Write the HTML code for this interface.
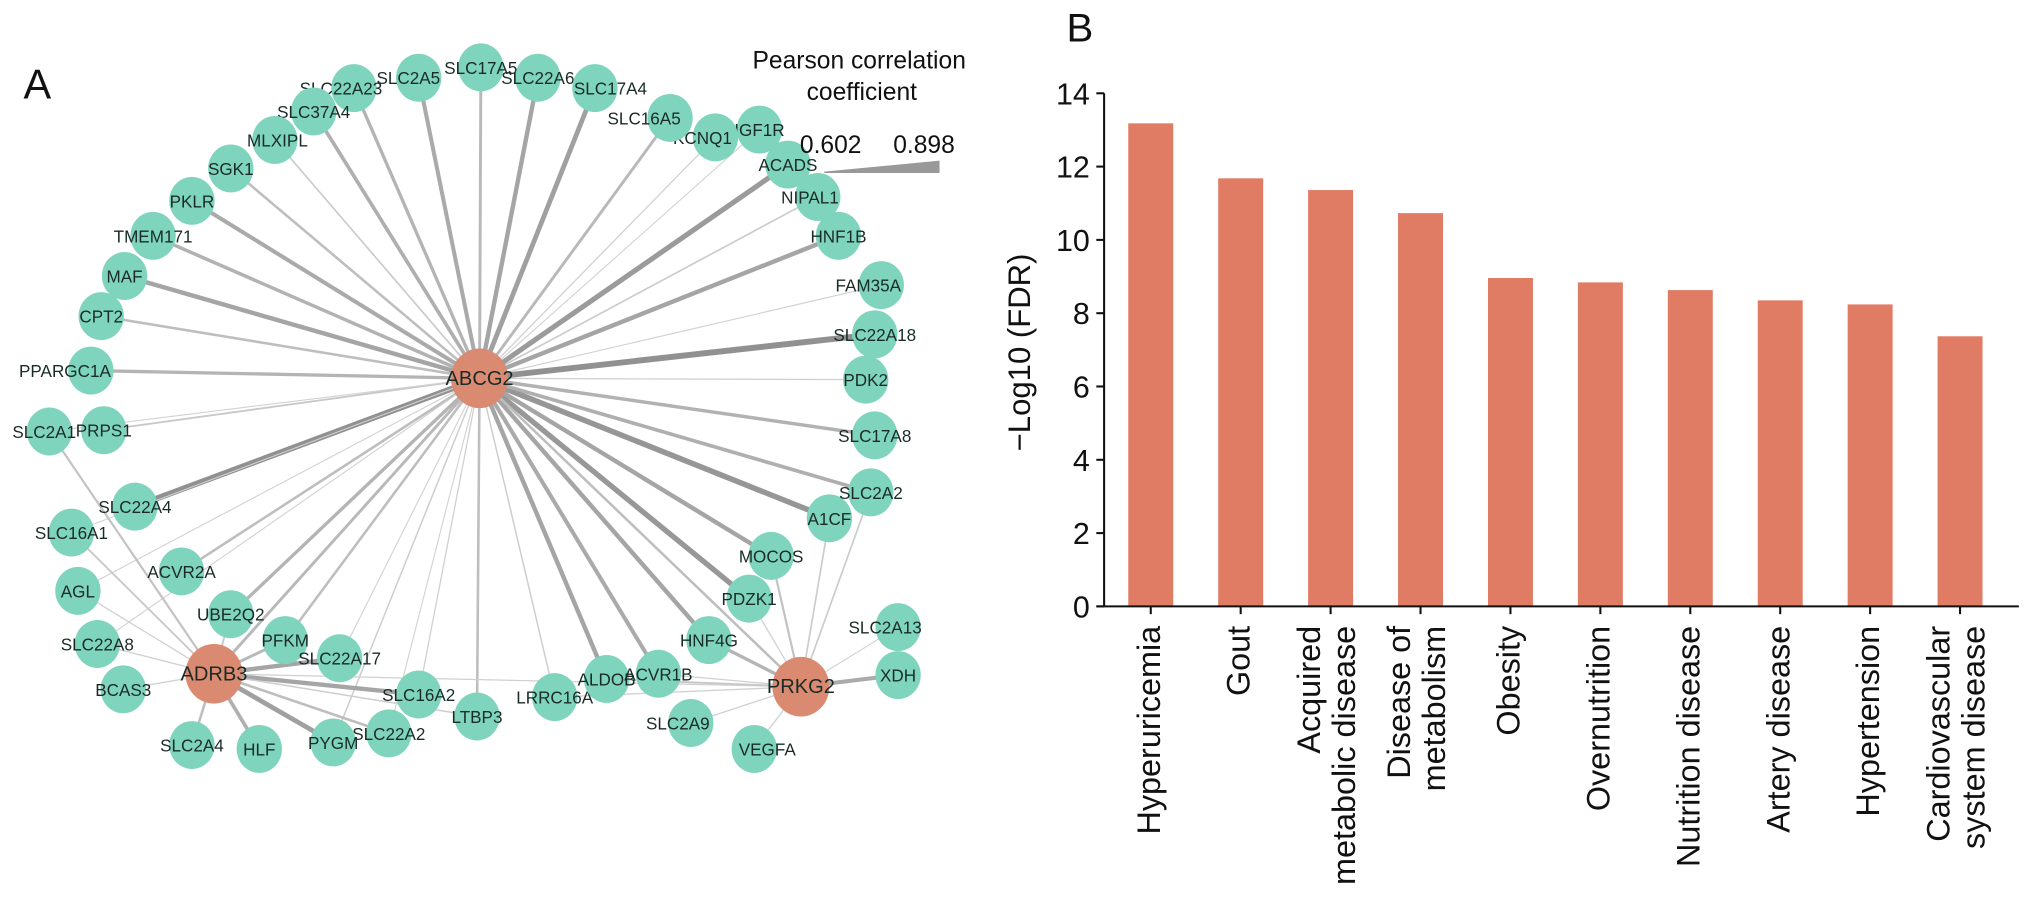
<!DOCTYPE html>
<html><head><meta charset="utf-8">
<style>
html,body{margin:0;padding:0;background:#fff;}
svg{display:block;font-family:"Liberation Sans",Arial,sans-serif;}
</style></head>
<body>
<svg id="fig" width="2032" height="907" viewBox="0 0 1568 700" xmlns="http://www.w3.org/2000/svg">
<g id="net"></g>
<g id="chart"></g>
</svg>
<script>
// ---------- Bar chart data ----------
const categories = [["Hyperuricemia"],["Gout"],["Acquired","metabolic disease"],["Disease of","metabolism"],["Obesity"],["Overnutrition"],["Nutrition disease"],["Artery disease"],["Hypertension"],["Cardiovascular","system disease"]];
const fdrValues = [13.18, 11.68, 11.36, 10.73, 8.96, 8.84, 8.63, 8.35, 8.24, 7.37];
const yTicks = [0, 2, 4, 6, 8, 10, 12, 14];

// ---------- Network data ----------
const nodeNames = ["ABCG2","ADRB3","PRKG2","SLC17A5","SLC2A5","SLC22A6","SLC17A4","SLC22A23","SLC37A4","MLXIPL","SGK1","PKLR","TMEM171","MAF","CPT2","PPARGC1A","SLC2A1","PRPS1","SLC22A4","SLC16A1","ACVR2A","AGL","UBE2Q2","PFKM","SLC22A8","SLC22A17","SLC16A2","BCAS3","LTBP3","SLC22A2","SLC2A4","HLF","PYGM","LRRC16A","ALDOB","ACVR1B","HNF4G","PDZK1","MOCOS","A1CF","SLC2A2","SLC17A8","PDK2","SLC22A18","FAM35A","HNF1B","NIPAL1","ACADS","IGF1R","KCNQ1","SLC16A5","SLC2A13","XDH","SLC2A9","VEGFA"];
const nodeX = [370,165,618,371,323,415,459,273,242,212,178,148,118,96,78,70,38,80,104,55,140,60,178,220,75,262,323,95,368,300,148,200,257,428,468,508,547,578,595,640,672,675,668,675,680,647,631,608,586,552,517,693,693,533,582];
const nodeY = [292,520,530,52,60,60,68,68,86,108,130,155,182,213,244,286,333,332,391,411,441,456,474,494,497,508,536,532,553,566,575,578,573,538,524,520,494,462,429,400,380,336,293,258,220,182,152,127,100,106,91,484,521,558,578];
const labelDx = [0,0,0,0,-8,0,12,-10,0,2,0,0,0,0,0,-20,-4,0,0,0,0,0,0,0,0,0,0,0,0,0,0,0,0,0,0,0,0,0,0,0,0,0,0,0,-10,0,-6,0,0,-10,-20,-10,0,-10,10];
// edges: source index, target index, correlation weight
const edgeFrom = [0,0,0,0,0,0,0,0,0,0,0,0,0,0,0,0,0,0,0,0,0,0,0,0,0,0,0,0,0,0,0,0,0,0,0,0,0,0,0,0,0,0,0,0,0,0,0, 1,1,1,1,1,1,1,1,1,1,1,1,1,1,1, 2,2,2,2,2,2,2,2,2,2,2,2];
const edgeTo   = [3,4,5,6,7,8,9,10,11,12,13,14,15,17,18,20,22,23,25,26,28,33,34,35,36,37,38,39,40,41,42,43,44,45,46,47,48,49,50,2,1,29,32,19,16,24,21, 16,19,21,24,27,22,23,25,26,28,29,32,31,30,2, 51,52,54,53,36,37,38,39,40,35,34,33];
const edgeW    = [0.72,0.78,0.80,0.82,0.74,0.76,0.65,0.70,0.78,0.75,0.80,0.70,0.74,0.66,0.88,0.70,0.74,0.70,0.62,0.63,0.70,0.64,0.80,0.78,0.80,0.85,0.80,0.86,0.76,0.75,0.63,0.88,0.62,0.80,0.65,0.84,0.62,0.63,0.72,0.70,0.72,0.62,0.64,0.62,0.62,0.62,0.62, 0.68,0.66,0.63,0.63,0.63,0.66,0.72,0.80,0.80,0.64,0.70,0.82,0.76,0.70,0.63, 0.62,0.78,0.63,0.63,0.74,0.63,0.68,0.65,0.65,0.63,0.66,0.63];

const NS="http://www.w3.org/2000/svg";
function mk(tag, attrs, parent){const e=document.createElementNS(NS,tag);for(const k in attrs)e.setAttribute(k,attrs[k]);parent.appendChild(e);return e;}

// ---------- Draw network ----------
const net=document.getElementById('net');
function ew(w){return 0.6+(w-0.602)/(0.898-0.602)*4.2;}
function ec(w){const g=Math.round(215-(w-0.602)/(0.296)*75);return `rgb(${g},${g},${g})`;}
for(let i=0;i<edgeFrom.length;i++){
  const a=edgeFrom[i],b=edgeTo[i];
  const l=mk('line',{x1:nodeX[a],y1:nodeY[a],x2:nodeX[b],y2:nodeY[b],stroke:ec(edgeW[i]),'stroke-width':ew(edgeW[i])},net);
  
  
}
for(let i=0;i<nodeNames.length;i++){
  const hub=i<3;
  const g=mk('g',{},net);
  
  
  mk('ellipse',{cx:nodeX[i],cy:nodeY[i],rx:hub?22:17.5,ry:hub?23:18.5,fill:hub?'#da8a70':'#7fd4bd'},g);
  const t=mk('text',{x:nodeX[i]+labelDx[i],y:nodeY[i]+5,'text-anchor':'middle','font-size':hub?15.5:13.2,fill:'#1a2b27'},g);
  t.textContent=nodeNames[i];
}
// Panel label + legend
let t=mk('text',{x:18,y:76,'font-size':32,fill:'#111'},net);t.textContent='A';

const leg=mk('g',{},net);
t=mk('text',{x:663,y:53,'text-anchor':'middle','font-size':19,fill:'#111'},leg);t.textContent='Pearson correlation';
t=mk('text',{x:665,y:77,'text-anchor':'middle','font-size':19,fill:'#111'},leg);t.textContent='coefficient';
t=mk('text',{x:641,y:118,'text-anchor':'middle','font-size':19,fill:'#111'},leg);t.textContent='0.602';
t=mk('text',{x:713,y:118,'text-anchor':'middle','font-size':19,fill:'#111'},leg);t.textContent='0.898';
mk('polygon',{points:'636,132.5 725,124 725,133.5 636,133.5',fill:'#999'},leg);

// ---------- Draw bar chart ----------
const ch=document.getElementById('chart');
const X0=852, Y0=468, YTOP=72, YMAX=14, X_END=1558, STEP=69.4, FIRST=888, BW=34.7;
const yScale=v=>Y0-(v/YMAX)*(Y0-YTOP);
const xScale=i=>FIRST+i*STEP;
t=mk('text',{x:823,y:32,'font-size':31,fill:'#111'},ch);t.textContent='B';

fdrValues.forEach((v,i)=>{
  const r=mk('rect',{x:xScale(i)-BW/2,y:yScale(v),width:BW,height:Y0-yScale(v),fill:'#e07b64'},ch);
  
  
});
const ax=mk('g',{stroke:'#111','stroke-width':1.6},ch);

mk('line',{x1:X0,y1:YTOP,x2:X0,y2:Y0},ax);
mk('line',{x1:X0-6,y1:Y0,x2:X_END,y2:Y0},ax);
yTicks.forEach(v=>{
  mk('line',{x1:X0-6,y1:yScale(v),x2:X0,y2:yScale(v)},ax);
  const tt=mk('text',{x:X0-11,y:yScale(v)+8.5,'text-anchor':'end','font-size':23.5,fill:'#111'},ch);
  tt.textContent=v;
  
  
});
categories.forEach((c,i)=>{
  const x=xScale(i);
  mk('line',{x1:x,y1:Y0,x2:x,y2:Y0+6},ax);
  const n=c.length;
  c.forEach((line,j)=>{
    const cx = n===1 ? x-2 : x-17+j*27;
    const lx=cx+9;
    const tt=mk('text',{x:lx,y:Y0+15,transform:`rotate(-90 ${lx} ${Y0+15})`,'text-anchor':'end','font-size':25,fill:'#111'},ch);
    tt.textContent=line;
    
    
  });
});
t=mk('text',{x:795,y:272,transform:'rotate(-90 795 272)','text-anchor':'middle','font-size':24,fill:'#111'},ch);
t.textContent='\u2212Log10 (FDR)';

</script>
</body></html>
